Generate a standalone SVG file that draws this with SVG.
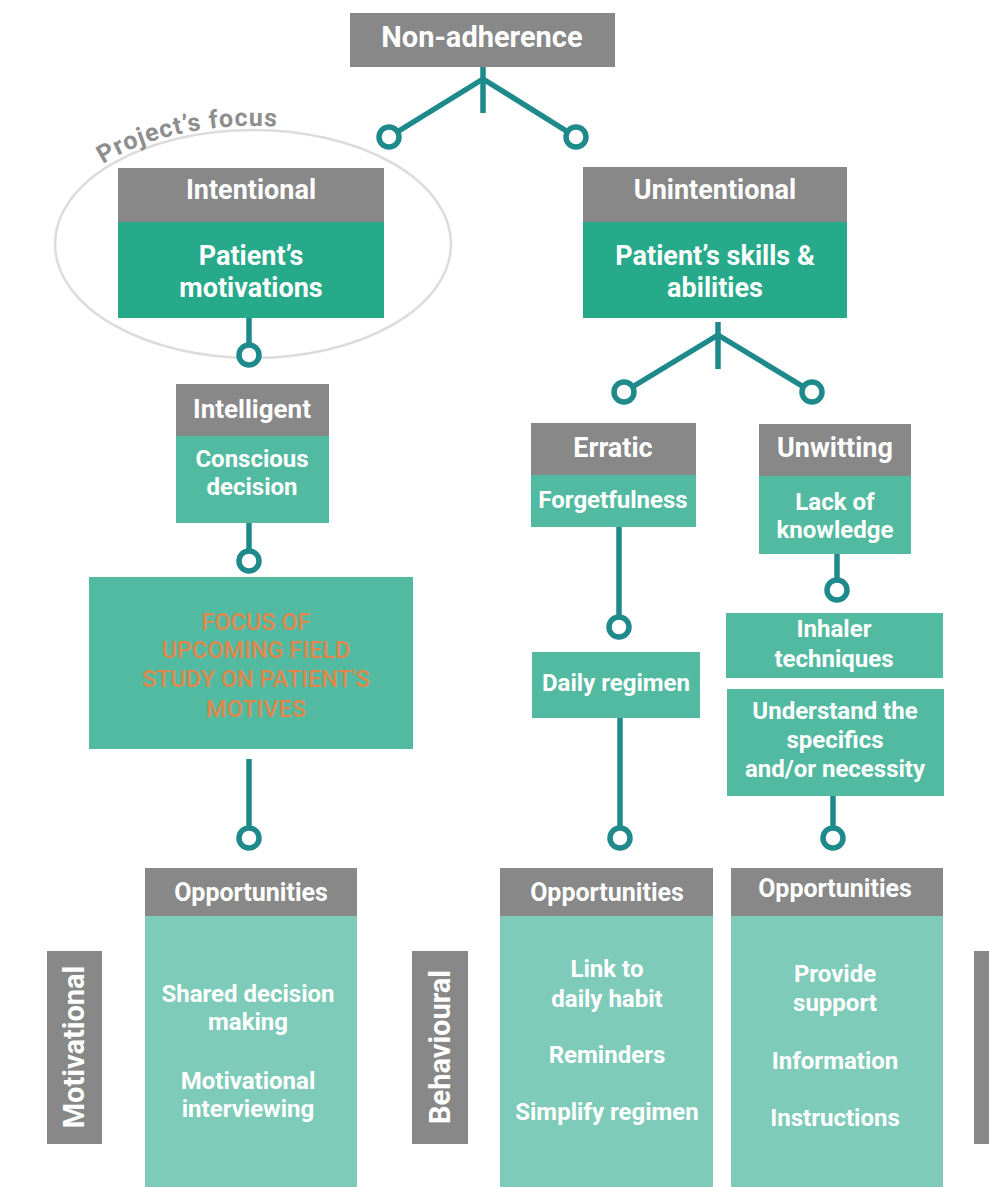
<svg xmlns="http://www.w3.org/2000/svg" width="989" height="1187" viewBox="0 0 989 1187">
  <style>
    .hdr { fill: #888888; }
    .g1 { fill: #27aa8a; }
    .g2 { fill: #52baa1; }
    .g3 { fill: #7ecbb9; }
    .t { font-family: Roboto, "Liberation Sans", sans-serif; font-weight: 700; fill: #ffffff; text-anchor: middle; }
    .h27 { font-size: 27px; }
    .b24 { font-size: 24px; }
    .conn line { stroke: #1f8a8c; stroke-width: 5.5; fill: none; }
    .conn circle { stroke: #1f8a8c; stroke-width: 5.5; fill: #ffffff; }
  </style>
  <defs>
    <path id="focusArc" d="M 103,164 A 204,118 0 0 1 457,244"/>
  </defs>
  <rect width="989" height="1187" fill="#ffffff"/>

  <!-- project focus ring -->
  <g id="project-focus">
    <ellipse cx="253" cy="244" rx="198" ry="114" fill="none" stroke="#dcdcdc" stroke-width="2.5"/>
    <text font-family="Roboto, 'Liberation Sans', sans-serif" font-weight="700" font-size="25" fill="#8e8e8e" letter-spacing="1"><textPath href="#focusArc">Project’s focus</textPath></text>
  </g>

  <!-- connectors -->
  <g class="conn" id="connectors">
    <line x1="483" y1="67" x2="483" y2="113"/>
    <line x1="483" y1="79" x2="389" y2="137"/>
    <line x1="483" y1="79" x2="576" y2="137"/>
    <circle cx="389" cy="137" r="10"/>
    <circle cx="576" cy="137" r="10"/>

    <line x1="249" y1="318" x2="249" y2="355"/>
    <circle cx="249" cy="355" r="10"/>
    <line x1="249" y1="523" x2="249" y2="561"/>
    <circle cx="249" cy="561" r="10"/>
    <line x1="249" y1="759" x2="249" y2="838"/>
    <circle cx="249" cy="838" r="10"/>

    <line x1="718" y1="322" x2="718" y2="369"/>
    <line x1="718" y1="335" x2="624" y2="392"/>
    <line x1="718" y1="335" x2="812" y2="392"/>
    <circle cx="624" cy="392" r="10"/>
    <circle cx="812" cy="392" r="10"/>

    <line x1="619" y1="527" x2="619" y2="627"/>
    <circle cx="619" cy="627" r="10"/>
    <line x1="620" y1="718" x2="620" y2="838"/>
    <circle cx="620" cy="838" r="10"/>

    <line x1="837" y1="554" x2="837" y2="590"/>
    <circle cx="837" cy="590" r="10"/>
    <line x1="833" y1="796" x2="833" y2="838"/>
    <circle cx="833" cy="838" r="10"/>
  </g>

  <g id="non-adherence">
    <rect class="hdr" x="350" y="13" width="265" height="54"/>
    <text class="t" x="482" y="47" font-size="29">Non-adherence</text>
  </g>

  <g id="intentional">
    <rect class="hdr" x="118" y="168" width="266" height="54"/>
    <rect class="g1" x="118" y="222" width="266" height="96"/>
    <text class="t h27" x="251" y="199">Intentional</text>
    <text class="t h27" x="251" y="265">Patient’s</text>
    <text class="t h27" x="251" y="297">motivations</text>
  </g>

  <g id="unintentional">
    <rect class="hdr" x="583" y="167" width="264" height="55"/>
    <rect class="g1" x="583" y="222" width="264" height="96"/>
    <text class="t h27" x="715" y="199">Unintentional</text>
    <text class="t h27" x="715" y="265">Patient’s skills &amp;</text>
    <text class="t h27" x="715" y="297">abilities</text>
  </g>

  <g id="intelligent">
    <rect class="hdr" x="176" y="384" width="153" height="52"/>
    <rect class="g2" x="176" y="436" width="153" height="87"/>
    <text class="t" x="252" y="418" font-size="26">Intelligent</text>
    <text class="t b24" x="252" y="467">Conscious</text>
    <text class="t b24" x="252" y="495">decision</text>
  </g>

  <g id="field-study">
    <rect class="g2" x="89" y="577" width="324" height="172"/>
    <g font-family="Roboto, 'Liberation Sans', sans-serif" font-weight="500" font-size="23.5" fill="#e0884c" text-anchor="middle">
      <text x="256" y="630">FOCUS OF</text>
      <text x="256" y="658">UPCOMING FIELD</text>
      <text x="256" y="687">STUDY ON PATIENT'S</text>
      <text x="256" y="717">MOTIVES</text>
    </g>
  </g>

  <g id="erratic">
    <rect class="hdr" x="531" y="423" width="165" height="52"/>
    <rect class="g2" x="531" y="475" width="165" height="52"/>
    <text class="t h27" x="613" y="457">Erratic</text>
    <text class="t b24" x="613" y="508">Forgetfulness</text>
  </g>

  <g id="unwitting">
    <rect class="hdr" x="759" y="424" width="152" height="52"/>
    <rect class="g2" x="759" y="476" width="152" height="78"/>
    <text class="t h27" x="835" y="457">Unwitting</text>
    <text class="t b24" x="835" y="510">Lack of</text>
    <text class="t b24" x="835" y="538">knowledge</text>
  </g>

  <g id="daily-regimen">
    <rect class="g2" x="532" y="652" width="168" height="66"/>
    <text class="t b24" x="616" y="691">Daily regimen</text>
  </g>

  <g id="inhaler">
    <rect class="g2" x="726" y="613" width="217" height="65"/>
    <text class="t b24" x="834" y="637">Inhaler</text>
    <text class="t b24" x="834" y="667">techniques</text>
  </g>

  <g id="understand">
    <rect class="g2" x="727" y="689" width="217" height="107"/>
    <text class="t b24" x="835" y="719">Understand the</text>
    <text class="t b24" x="835" y="748">specifics</text>
    <text class="t b24" x="835" y="777">and/or necessity</text>
  </g>

  <g id="opportunities-motivational">
    <rect class="hdr" x="145" y="868" width="212" height="48"/>
    <rect class="g3" x="145" y="916" width="212" height="271"/>
    <text class="t" x="251" y="901" font-size="25">Opportunities</text>
    <text class="t b24" x="248" y="1002">Shared decision</text>
    <text class="t b24" x="248" y="1030">making</text>
    <text class="t b24" x="248" y="1089">Motivational</text>
    <text class="t b24" x="248" y="1117">interviewing</text>
  </g>

  <g id="opportunities-behavioural">
    <rect class="hdr" x="500" y="868" width="213" height="48"/>
    <rect class="g3" x="500" y="916" width="213" height="271"/>
    <text class="t" x="607" y="901" font-size="25">Opportunities</text>
    <text class="t b24" x="607" y="977">Link to</text>
    <text class="t b24" x="607" y="1007">daily habit</text>
    <text class="t b24" x="607" y="1063">Reminders</text>
    <text class="t b24" x="607" y="1120">Simplify regimen</text>
  </g>

  <g id="opportunities-knowledge">
    <rect class="hdr" x="731" y="868" width="212" height="48"/>
    <rect class="g3" x="731" y="916" width="212" height="271"/>
    <text class="t" x="835" y="897" font-size="25">Opportunities</text>
    <text class="t b24" x="835" y="982">Provide</text>
    <text class="t b24" x="835" y="1011">support</text>
    <text class="t b24" x="835" y="1069">Information</text>
    <text class="t b24" x="835" y="1126">Instructions</text>
  </g>

  <g id="label-motivational">
    <rect class="hdr" x="47" y="951" width="55" height="193"/>
    <text class="t" transform="translate(84,1047) rotate(-90)" font-size="29">Motivational</text>
  </g>

  <g id="label-behavioural">
    <rect class="hdr" x="412" y="951" width="56" height="193"/>
    <text class="t" transform="translate(450,1047) rotate(-90)" font-size="29">Behavioural</text>
  </g>

  <g id="label-right">
    <rect class="hdr" x="974" y="951" width="20" height="193"/>
  </g>
</svg>
